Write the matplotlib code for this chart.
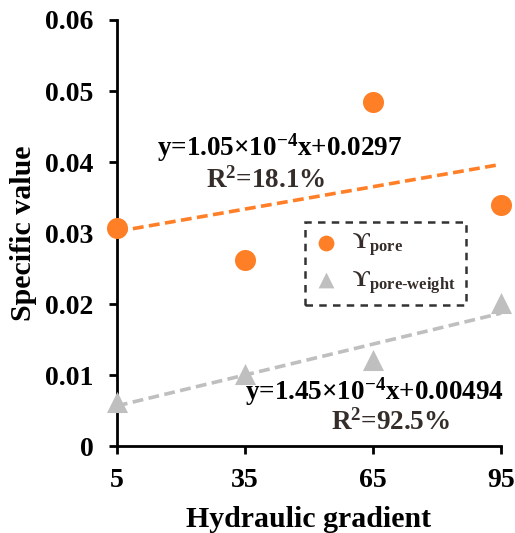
import matplotlib
matplotlib.use("Agg")
import matplotlib.pyplot as plt
import numpy as np

plt.rcParams['font.family'] = ['Liberation Serif', 'DejaVu Serif']
plt.rcParams['font.weight'] = 'bold'
plt.rcParams['mathtext.fontset'] = 'custom'
plt.rcParams['mathtext.rm'] = 'Liberation Serif:bold'
plt.rcParams['mathtext.it'] = 'Liberation Serif:bold'
plt.rcParams['mathtext.bf'] = 'Liberation Serif:bold'

# Data
gradient = [5, 35, 65, 95]
pore = [0.0307, 0.0262, 0.0484, 0.0339]
pore_weight = [0.0062, 0.0101, 0.0121, 0.0202]
pore_fit = (1.05e-4, 0.0297)
weight_fit = (1.45e-4, 0.00494)
x_ticks = [5, 35, 65, 95]
y_ticks = [0, 0.01, 0.02, 0.03, 0.04, 0.05, 0.06]
y_tick_labels = ['0', '0.01', '0.02', '0.03', '0.04', '0.05', '0.06']

orange = '#FF7F27'
gray = '#BFBFBF'
txtc = '#352d2a'

fig = plt.figure(figsize=(5.15, 5.33), dpi=100)
ax = fig.add_axes([0.227, 0.163, 0.746, 0.7995])

xs = np.array([gradient[0], gradient[-1]])
ax.plot(xs, pore_fit[0] * xs + pore_fit[1], color=orange, lw=2.6,
        dashes=(3, 1.5), zorder=2, clip_on=False)
ax.plot(xs, weight_fit[0] * xs + weight_fit[1], color=gray, lw=2.6,
        dashes=(3, 1.5), zorder=2, clip_on=False)

ax.scatter(gradient, pore, s=230, color=orange, marker='o', zorder=3,
           clip_on=False, linewidths=0, label=r'$\mathrm{ϒ}_{\mathrm{pore}}$')
ax.scatter(gradient, pore_weight, s=230, color=gray, marker='^', zorder=3,
           clip_on=False, linewidths=0, label=r'$\mathrm{ϒ}_{\mathrm{pore\text{-}weight}}$')

ax.set_xlim(5, 95)
ax.set_ylim(0, 0.06)
ax.set_xticks(x_ticks)
ax.set_xticklabels([str(v) for v in x_ticks])
ax.set_yticks(y_ticks)
ax.set_yticklabels(y_tick_labels)
for s in ['top', 'right']:
    ax.spines[s].set_visible(False)
for s in ['left', 'bottom']:
    ax.spines[s].set_linewidth(2)
ax.tick_params(axis='both', direction='out', length=6, width=2, labelsize=20)
ax.tick_params(axis='y', pad=11)
ax.tick_params(axis='x', pad=10)
ax.set_xlabel('Hydraulic gradient', fontsize=21.5, fontweight='bold', labelpad=9)
ax.set_ylabel('Specific value', fontsize=21.5, fontweight='bold', labelpad=6)

fs = 19.5
ax.text(0.424, 0.70, r'y=1.05$\times$10$^{-4}$x+0.0297', transform=ax.transAxes,
        fontsize=fs, ha='center', va='center', color='black')
ax.text(0.388, 0.624, r'R$^{2}$=18.1%', transform=ax.transAxes,
        fontsize=fs, ha='center', va='center', color=txtc)
ax.text(0.67, 0.127, r'y=1.45$\times$10$^{-4}$x+0.00494', transform=ax.transAxes,
        fontsize=fs, ha='center', va='center', color='black')
ax.text(0.711, 0.056, r'R$^{2}$=92.5%', transform=ax.transAxes,
        fontsize=fs, ha='center', va='center', color=txtc)

leg = ax.legend(loc='upper left', bbox_to_anchor=(0.49, 0.526), fontsize=17,
                frameon=True, fancybox=False, borderpad=0.4, handletextpad=0.6,
                handlelength=1.0, labelspacing=0.45, markerscale=0.75,
                labelcolor=txtc, borderaxespad=0)
fr = leg.get_frame()
fr.set_edgecolor('black')
fr.set_linewidth(1.8)
fr.set_linestyle((0, (3, 2.5)))

fig.savefig('out.png', dpi=100)
